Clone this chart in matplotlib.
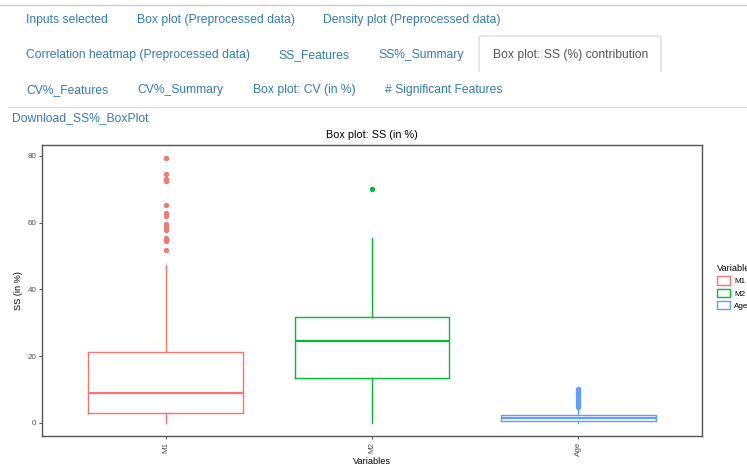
import matplotlib
matplotlib.use('Agg')
import matplotlib.pyplot as plt
from matplotlib.patches import FancyBboxPatch, Patch
from matplotlib.lines import Line2D

plt.rcParams['font.family'] = ['Liberation Sans', 'DejaVu Sans']

# tabs of the page (rows of labels)
tabs_row1 = ['Inputs selected', 'Box plot (Preprocessed data)', 'Density plot (Preprocessed data)']
tabs_row2 = ['Correlation heatmap (Preprocessed data)', 'SS_Features', 'SS%_Summary',
             'Box plot: SS (%) contribution']
tabs_row3 = ['CV%_Features', 'CV%_Summary', 'Box plot: CV (in %)', '# Significant Features']
active_tab = 'Box plot: SS (%) contribution'

# box plot data
variables = ['M1', 'M2', 'Age']
colors = ['#F8766D', '#00BA38', '#619CFF']
whisker_low = [0.0, 0.0, 0.0]
q1 = [2.9, 13.4, 0.6]
median = [8.9, 24.4, 1.5]
q3 = [21.2, 31.8, 2.4]
whisker_high = [47.3, 55.5, 4.3]
outliers_m1 = [79.3, 74.6, 73.0, 72.5, 65.2, 62.8, 62.1, 59.7, 58.7, 57.9, 55.5, 55.0, 54.5, 51.8]
outliers_m2 = [70.0]
outliers_age = [10.0, 9.7, 9.4, 9.1, 8.8, 8.5, 8.2, 7.8, 7.0, 6.6, 6.2, 5.8, 5.4, 5.1, 4.8]
yticks = [0, 20, 40, 60, 80]

W, H = 747, 465
fig = plt.figure(figsize=(W / 100, H / 100), dpi=100)


def fx(px):
    return px / W


def fy(py):
    return 1 - py / H


link = '#337ab7'
# page chrome
fig.add_artist(Line2D([0, 1], [fy(5), fy(5)], color='#cccccc', lw=1))
fig.add_artist(Line2D([fx(8), 1], [fy(107), fy(107)], color='#dddddd', lw=1))
fig.add_artist(FancyBboxPatch((fx(479), fy(73)), fx(182), fy(36) - fy(73),
                              boxstyle='round,pad=0,rounding_size=0.004',
                              facecolor='white', edgecolor='#dddddd', lw=1))
fig.add_artist(Line2D([fx(480), fx(660)], [fy(73), fy(73)], color='white', lw=1.5))

rows = [(tabs_row1, [26, 137, 323], 19), (tabs_row2, [26, 278, 378, 493], 54),
        (tabs_row3, [26, 137, 253, 385], 89)]
for labels, xs, y in rows:
    for lab, x in zip(labels, xs):
        fig.text(fx(x), fy(y + 4), lab, fontsize=8.75, va='baseline', ha='left',
                 color='#555555' if lab == active_tab else link)
fig.text(fx(12), fy(121), 'Download_SS%_BoxPlot', fontsize=8.75, va='baseline', color=link)

# plot
ax = fig.add_axes([fx(42), fy(436), fx(660), fy(145) - fy(436)])
outliers = [outliers_m1, outliers_m2, outliers_age]
for i, var in enumerate(variables):
    st = dict(med=median[i], q1=q1[i], q3=q3[i], whislo=whisker_low[i],
              whishi=whisker_high[i], fliers=outliers[i], label=var)
    c = colors[i]
    ax.bxp([st], positions=[i + 1], widths=0.75, showcaps=False, patch_artist=False,
           boxprops=dict(color=c, lw=1.0),
           whiskerprops=dict(color=c, lw=1.0),
           medianprops=dict(color=c, lw=1.6),
           flierprops=dict(marker='o', markerfacecolor=c, markeredgecolor=c,
                           markersize=2.8, linestyle='none'))

ax.set_xlim(0.4, 3.6)
ax.set_ylim(-3.97, 83.27)
ax.set_xticks([1, 2, 3])
ax.set_xticklabels(variables, rotation=90, fontsize=5.8, color='#4D4D4D')
ax.set_yticks(yticks)
ax.set_yticklabels([str(t) for t in yticks], fontsize=5.8, color='#4D4D4D')
ax.tick_params(length=2.5, width=0.6, color='#333333', pad=1.5)
for s in ax.spines.values():
    s.set_color('#555555')
    s.set_linewidth(1.0)
ax.set_ylabel('SS (in %)', fontsize=6.6, labelpad=3)
ax.set_xlabel('Variables', fontsize=6.6, labelpad=0.5)
ax.set_title('Box plot: SS (in %)', fontsize=7.8, pad=5)

handles = [Patch(facecolor='white', edgecolor=c, lw=1.0, label=v) for v, c in zip(variables, colors)]
fig.legend(handles=handles, title='Variable', loc='upper left',
           bbox_to_anchor=(fx(711), fy(258)), frameon=False, fontsize=5.8,
           title_fontsize=6.6, handlelength=1.6, handleheight=1.2,
           handletextpad=0.6, labelspacing=0.45, alignment='left', borderpad=0.2)

fig.savefig('out.png', dpi=100)
